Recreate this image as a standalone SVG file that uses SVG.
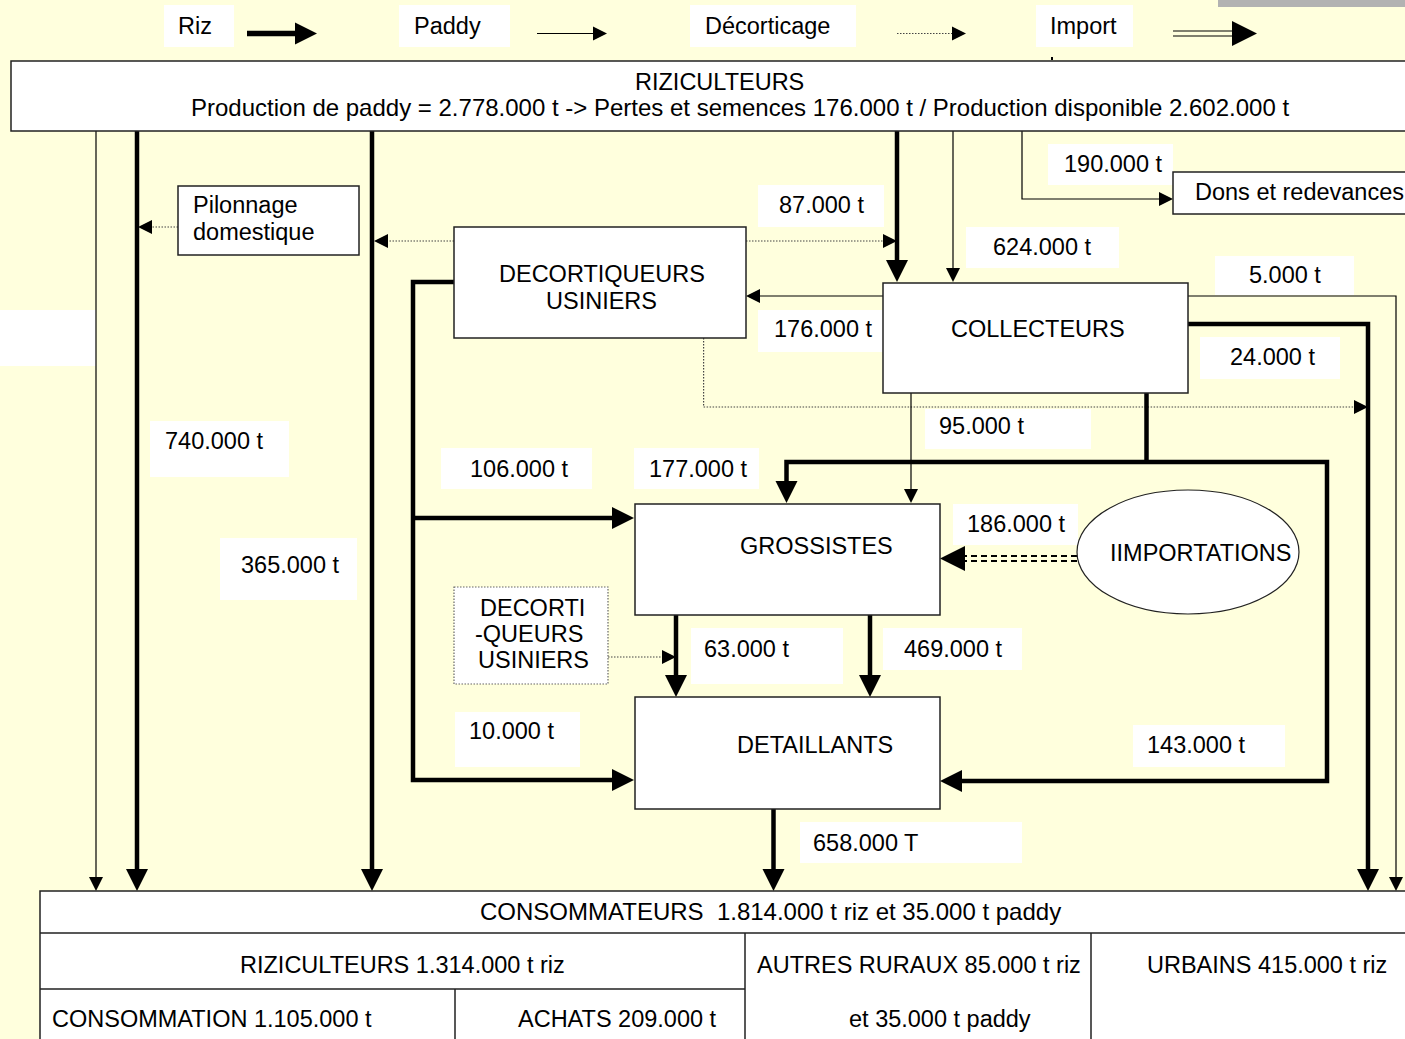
<svg xmlns="http://www.w3.org/2000/svg" width="1405" height="1039" viewBox="0 0 1405 1039">
<style>
text{font-family:"Liberation Sans",Arial,sans-serif;font-size:23.5px;fill:#000}
.big{font-size:24px}
.box{fill:#fff;stroke:#222;stroke-width:1.5}
.lbl{fill:#fff;stroke:none}
.thin{fill:none;stroke:#000;stroke-width:1.2}
.thick{fill:none;stroke:#000;stroke-width:4.5;stroke-linejoin:miter}
.dot{fill:none;stroke:#444;stroke-width:1.2;stroke-dasharray:1.5 1.5}
.dbl{fill:none;stroke:#000;stroke-width:2;stroke-dasharray:6 4}
</style>
<defs>
<marker id="big" markerUnits="userSpaceOnUse" markerWidth="22" markerHeight="22" refX="0" refY="11" orient="auto-start-reverse" overflow="visible"><path d="M0,0 L22,11 L0,22 z" fill="#000"/></marker>
<marker id="sm" markerUnits="userSpaceOnUse" markerWidth="14" markerHeight="14" refX="0" refY="7" orient="auto" overflow="visible"><path d="M0,0 L14,7 L0,14 z" fill="#000"/></marker>
<marker id="imp" markerUnits="userSpaceOnUse" markerWidth="25" markerHeight="25" refX="0" refY="12.5" orient="auto" overflow="visible"><path d="M0,0 L25,12.5 L0,25 z" fill="#000"/></marker>
</defs>
<rect x="0" y="0" width="1405" height="1039" fill="#FFFFDD"/>
<rect x="1218" y="0" width="187" height="7" fill="#B2B2B2"/>
<rect x="1051" y="57" width="2" height="3" fill="#000"/>

<g id="legend">
<rect class="lbl" x="164" y="5" width="70" height="42"/><text x="178" y="34">Riz</text>
<rect class="lbl" x="399" y="5" width="111" height="42"/><text x="414" y="34">Paddy</text>
<rect class="lbl" x="690" y="5" width="166" height="42"/><text x="705" y="34">Décorticage</text>
<rect class="lbl" x="1036" y="5" width="97" height="42"/><text x="1050" y="34">Import</text>
<path d="M247,33.5 H295" fill="none" stroke="#000" stroke-width="5.5" marker-end="url(#big)"/>
<path class="thin" d="M537,33.5 H593" marker-end="url(#sm)"/>
<path class="dot" d="M897,33.5 H952" marker-end="url(#sm)"/>
<path class="thin" d="M1173,31 H1232 M1173,36 H1232" stroke-width="1.5"/>
<path d="M1173,33.5 H1232" stroke="none" fill="none" marker-end="url(#imp)"/>
</g>

<g id="labels">
<rect class="lbl" x="0" y="310" width="96" height="56"/>
<rect class="lbl" x="150" y="421" width="139" height="56"/><text x="165" y="449">740.000 t</text>
<rect class="lbl" x="220" y="538" width="137" height="62"/><text x="241" y="573">365.000 t</text>
<rect class="lbl" x="441" y="448" width="151" height="41"/><text x="470" y="477">106.000 t</text>
<rect class="lbl" x="634" y="448" width="125" height="41"/><text x="649" y="477">177.000 t</text>
<rect class="lbl" x="758" y="185" width="126" height="42"/><text x="779" y="213">87.000 t</text>
<rect class="lbl" x="966" y="227" width="153" height="41"/><text x="993" y="255">624.000 t</text>
<rect class="lbl" x="1048" y="144" width="125" height="41"/><text x="1064" y="172">190.000 t</text>
<rect class="lbl" x="1215" y="256" width="139" height="39"/><text x="1249" y="283">5.000 t</text>
<rect class="lbl" x="758" y="310" width="125" height="42"/><text x="774" y="337">176.000 t</text>
<rect class="lbl" x="1200" y="337" width="140" height="42"/><text x="1230" y="365">24.000 t</text>
<rect class="lbl" x="925" y="409" width="166" height="40"/><text x="939" y="434">95.000 t</text>
<rect class="lbl" x="953" y="504" width="125" height="41"/><text x="967" y="532">186.000 t</text>
<rect class="lbl" x="691" y="628" width="152" height="56"/><text x="704" y="657">63.000 t</text>
<rect class="lbl" x="883" y="628" width="139" height="42"/><text x="904" y="657">469.000 t</text>
<rect class="lbl" x="455" y="712" width="125" height="55"/><text x="469" y="739">10.000 t</text>
<rect class="lbl" x="1133" y="725" width="152" height="42"/><text x="1147" y="753">143.000 t</text>
<rect class="lbl" x="800" y="822" width="222" height="41"/><text x="813" y="851">658.000 T</text>
</g>

<g id="connectors">
<path class="thin" d="M96,131 V877" marker-end="url(#sm)"/>
<path class="thick" d="M137,131 V869" marker-end="url(#big)"/>
<path class="thick" d="M372,131 V869" marker-end="url(#big)"/>
<path class="dot" d="M178,227 H152" marker-end="url(#sm)"/>
<path class="dot" d="M454,241 H388" marker-end="url(#sm)"/>
<path class="dot" d="M746,241 H883" marker-end="url(#sm)"/>
<path class="thick" d="M897,131 V260" marker-end="url(#big)"/>
<path class="thin" d="M953,131 V268" marker-end="url(#sm)"/>
<path class="thin" d="M1022,131 V199 H1159" marker-end="url(#sm)"/>
<path class="thin" d="M883,296 H760" marker-end="url(#sm)"/>
<path class="thin" d="M1188,296 H1396 V877" marker-end="url(#sm)"/>
<path class="thick" d="M1188,324 H1368 V869" marker-end="url(#big)"/>
<path class="dot" d="M703.6,338 V407 H1354" marker-end="url(#sm)"/>
<path class="thin" d="M911,393 V489" marker-end="url(#sm)"/>
<path class="thick" d="M1146.5,393 V462"/>
<path class="thick" d="M786.5,481 V462 H1327 V781 H962" marker-start="url(#big)" marker-end="url(#big)"/>
<path class="thick" d="M454,282 H413 V780 H612" marker-end="url(#big)"/>
<path class="thick" d="M413,518 H612" marker-end="url(#big)"/>
<path class="thick" d="M676,615 V675" marker-end="url(#big)"/>
<path class="thick" d="M870,615 V675" marker-end="url(#big)"/>
<path class="dot" d="M608,657 H662" marker-end="url(#sm)"/>
<path class="dbl" d="M1077,556 H965 M1077,561 H965"/>
<path d="M1077,558.5 H965" stroke="none" fill="none" marker-end="url(#imp)"/>
<path class="thick" d="M773.5,809 V869" marker-end="url(#big)"/>
</g>

<g id="riziculteurs">
<rect class="box" x="11" y="61" width="1410" height="70"/>
<text x="635" y="90">RIZICULTEURS</text>
<text class="big" x="191" y="116">Production de paddy = 2.778.000 t -&gt; Pertes et semences 176.000 t / Production disponible 2.602.000 t</text>
</g>

<g id="pilonnage">
<rect class="box" x="178" y="186" width="181" height="69"/>
<text x="193" y="213">Pilonnage</text>
<text x="193" y="240">domestique</text>
</g>

<g id="decortiqueurs">
<rect class="box" x="454" y="227" width="292" height="111"/>
<text x="499" y="282">DECORTIQUEURS</text>
<text x="546" y="309">USINIERS</text>
</g>

<g id="collecteurs">
<rect class="box" x="883" y="283" width="305" height="110"/>
<text x="951" y="337">COLLECTEURS</text>
</g>

<g id="dons">
<rect class="box" x="1173" y="172" width="250" height="42"/>
<text x="1195" y="200">Dons et redevances</text>
</g>

<g id="grossistes">
<rect class="box" x="635" y="504" width="305" height="111"/>
<text x="740" y="554">GROSSISTES</text>
</g>

<g id="importations">
<ellipse cx="1188" cy="552" rx="111" ry="62" fill="#fff" stroke="#222" stroke-width="1.2"/>
<text x="1110" y="561">IIMPORTATIONS</text>
</g>

<g id="decortiqueurs2">
<rect x="454" y="587" width="154" height="97" fill="#fff" stroke="#666" stroke-width="1.2" stroke-dasharray="1.5 1.5"/>
<text x="480" y="616">DECORTI</text>
<text x="475" y="642">-QUEURS</text>
<text x="478" y="668">USINIERS</text>
</g>

<g id="detaillants">
<rect class="box" x="635" y="697" width="305" height="112"/>
<text x="737" y="753">DETAILLANTS</text>
</g>

<g id="consommateurs">
<rect class="box" x="40" y="891" width="1400" height="160"/>
<path d="M40,933 H1410 M40,989 H745 M745,933 V1045 M1091,933 V1045 M455,989 V1045" fill="none" stroke="#222" stroke-width="1.5"/>
<text class="big" x="480" y="920" xml:space="preserve">CONSOMMATEURS  1.814.000 t riz et 35.000 t paddy</text>
<text x="240" y="973">RIZICULTEURS 1.314.000 t riz</text>
<text x="757" y="973">AUTRES RURAUX 85.000 t riz</text>
<text x="1147" y="973">URBAINS 415.000 t riz</text>
<text x="52" y="1027">CONSOMMATION 1.105.000 t</text>
<text x="518" y="1027">ACHATS 209.000 t</text>
<text x="849" y="1027">et 35.000 t paddy</text>
</g>
</svg>
